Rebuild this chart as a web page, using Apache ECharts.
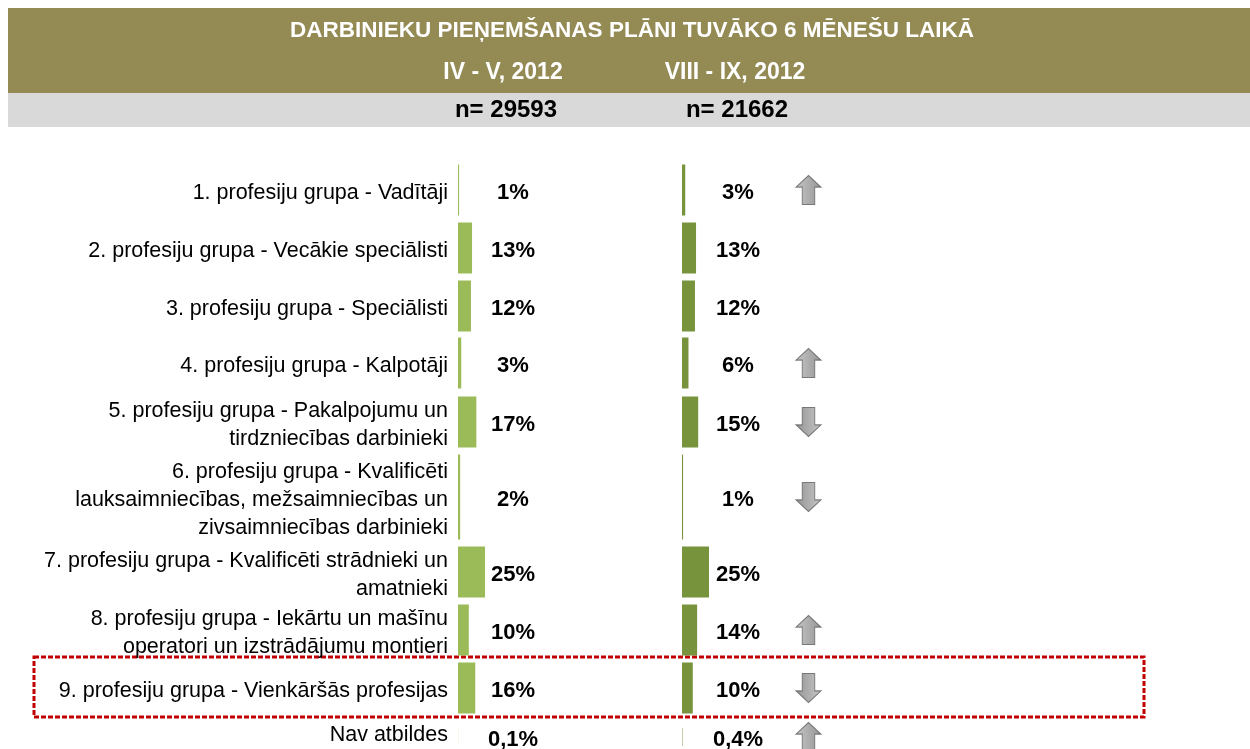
<!DOCTYPE html>
<html>
<head>
<meta charset="utf-8">
<title>Darbinieku pieņemšanas plāni</title>
<script src="https://cdn.jsdelivr.net/npm/echarts@6/dist/echarts.min.js"></script>
<style>
  html, body { margin: 0; padding: 0; background: #fff; }
  #chart { width: 1250px; height: 749px; }
</style>
</head>
<body>
<div id="chart"></div>
<script>
// == Data ====================================================================

const categories = [
  '1. profesiju grupa - Vadītāji',
  '2. profesiju grupa - Vecākie speciālisti',
  '3. profesiju grupa - Speciālisti',
  '4. profesiju grupa - Kalpotāji',
  '5. profesiju grupa - Pakalpojumu un\ntirdzniecības darbinieki',
  '6. profesiju grupa - Kvalificēti\nlauksaimniecības, mežsaimniecības un\nzivsaimniecības darbinieki',
  '7. profesiju grupa - Kvalificēti strādnieki un\namatnieki',
  '8. profesiju grupa - Iekārtu un mašīnu\noperatori un izstrādājumu montieri',
  '9. profesiju grupa - Vienkāršās profesijas',
  'Nav atbildes'
]
const periods = ['IV - V, 2012', 'VIII - IX, 2012']
const sampleSizes = [29593, 21662]
const valuesSpring = [1, 13, 12, 3, 17, 2, 25, 10, 16, 0.1]
const valuesAutumn = [3, 13, 12, 6, 15, 1, 25, 14, 10, 0.4]
const trend = ['up', '', '', 'up', 'down', 'down', '', 'up', 'down', 'up']

// == Layout ==================================================================

const rowCenters = [190, 248, 306, 363, 422, 497, 572, 630, 688, 737]
const rowHeights = [51, 51, 51, 51, 51, 85, 51, 51, 51, 18]
const FONT = '"Liberation Sans", Arial, sans-serif'
const colors = { spring: '#9BBB59', autumn: '#77933C', band: '#948A54', sub: '#D9D9D9' }
const arrowPath = 'path://M12 0 L24 12 L18 12 L18 30 L6 30 L6 12 L0 12 Z'

function fmt (v) {
  return (Number.isInteger(v) ? String(v) : String(v).replace('.', ',')) + '%'
}

const grid = []
const xAxis = []
const yAxis = []
const series = []

categories.forEach((cat, i) => {
  const top = rowCenters[i] - rowHeights[i] / 2
  const h = rowHeights[i]
  const base = i * 4

  grid.push({ left: 458, width: 108, top, height: h })
  grid.push({ left: 682, width: 108, top, height: h })
  grid.push({ left: 796, width: 25, top, height: h })
  // row label sits a touch lower than the bar centre
  grid.push({ left: 458, width: 108, top: top + 3, height: h })

  xAxis.push({ gridIndex: base, type: 'value', min: 0, max: 100, show: false })
  xAxis.push({ gridIndex: base + 1, type: 'value', min: 0, max: 100, show: false })
  xAxis.push({ gridIndex: base + 2, type: 'category', data: ['t'], show: false })
  xAxis.push({ gridIndex: base + 3, type: 'value', min: 0, max: 100, show: false })

  yAxis.push({ gridIndex: base, type: 'category', data: [cat], show: false })
  yAxis.push({ gridIndex: base + 1, type: 'category', data: [cat], show: false })
  yAxis.push({ gridIndex: base + 2, type: 'category', data: [cat], show: false })
  yAxis.push({
    gridIndex: base + 3, type: 'category', data: [cat],
    axisLine: { show: false }, axisTick: { show: false }, splitLine: { show: false },
    axisLabel: {
      margin: 10, fontFamily: FONT, fontSize: 21.5, lineHeight: 28, color: '#000', align: 'right'
    }
  })

  const labelStyle = (dx) => ({
    show: true,
    position: [dx, '50%'],
    offset: [0, 3],
    align: 'center',
    verticalAlign: 'middle',
    fontFamily: FONT,
    fontSize: 22,
    fontWeight: 'bold',
    color: '#000',
    formatter: (p) => fmt(p.value)
  })

  series.push({
    type: 'bar', name: periods[0], xAxisIndex: base, yAxisIndex: base,
    data: [valuesSpring[i]], barWidth: '100%',
    itemStyle: { color: colors.spring },
    label: labelStyle(55), silent: true
  })
  series.push({
    type: 'bar', name: periods[1], xAxisIndex: base + 1, yAxisIndex: base + 1,
    data: [valuesAutumn[i]], barWidth: '100%',
    itemStyle: { color: colors.autumn },
    label: labelStyle(56), silent: true
  })
  if (trend[i]) {
    series.push({
      type: 'scatter', xAxisIndex: base + 2, yAxisIndex: base + 2,
      data: [[0, 0]],
      symbol: arrowPath,
      symbolSize: [25, 29],
      symbolRotate: trend[i] === 'down' ? 180 : 0,
      itemStyle: {
        color: {
          type: 'linear', x: 0, y: 0, x2: 1, y2: 0,
          colorStops: [{ offset: 0, color: '#b8b8b8' }, { offset: 1, color: '#7a7a7a' }]
        },
        borderColor: '#5f5f5f',
        borderWidth: 1
      },
      silent: true
    })
  }
})

const headerText = (x, y, text, color, size) => ({
  type: 'text', x, y,
  style: {
    text, fill: color, align: 'center', verticalAlign: 'middle',
    font: 'bold ' + size + 'px ' + FONT
  }
})

const option = {
  animation: false,
  backgroundColor: '#fff',
  grid,
  xAxis,
  yAxis,
  series,
  graphic: [
    { type: 'rect', shape: { x: 8, y: 8, width: 1242, height: 85 }, style: { fill: colors.band }, z: -1 },
    { type: 'rect', shape: { x: 8, y: 93, width: 1242, height: 34 }, style: { fill: colors.sub }, z: -1 },
    headerText(632, 31, 'DARBINIEKU PIEŅEMŠANAS PLĀNI TUVĀKO 6 MĒNEŠU LAIKĀ', '#fff', 22.5),
    headerText(503, 73, periods[0], '#fff', 23),
    headerText(735, 73, periods[1], '#fff', 23),
    headerText(506, 110, 'n= ' + sampleSizes[0], '#000', 24),
    headerText(737, 110, 'n= ' + sampleSizes[1], '#000', 24),
    {
      type: 'rect',
      shape: { x: 34, y: 657, width: 1110, height: 60 },
      style: { fill: null, stroke: '#C00000', lineWidth: 3, lineDash: [5, 2] }
    }
  ]
}

const myChart = echarts.init(document.getElementById('chart'))
myChart.setOption(option)
</script>
</body>
</html>
